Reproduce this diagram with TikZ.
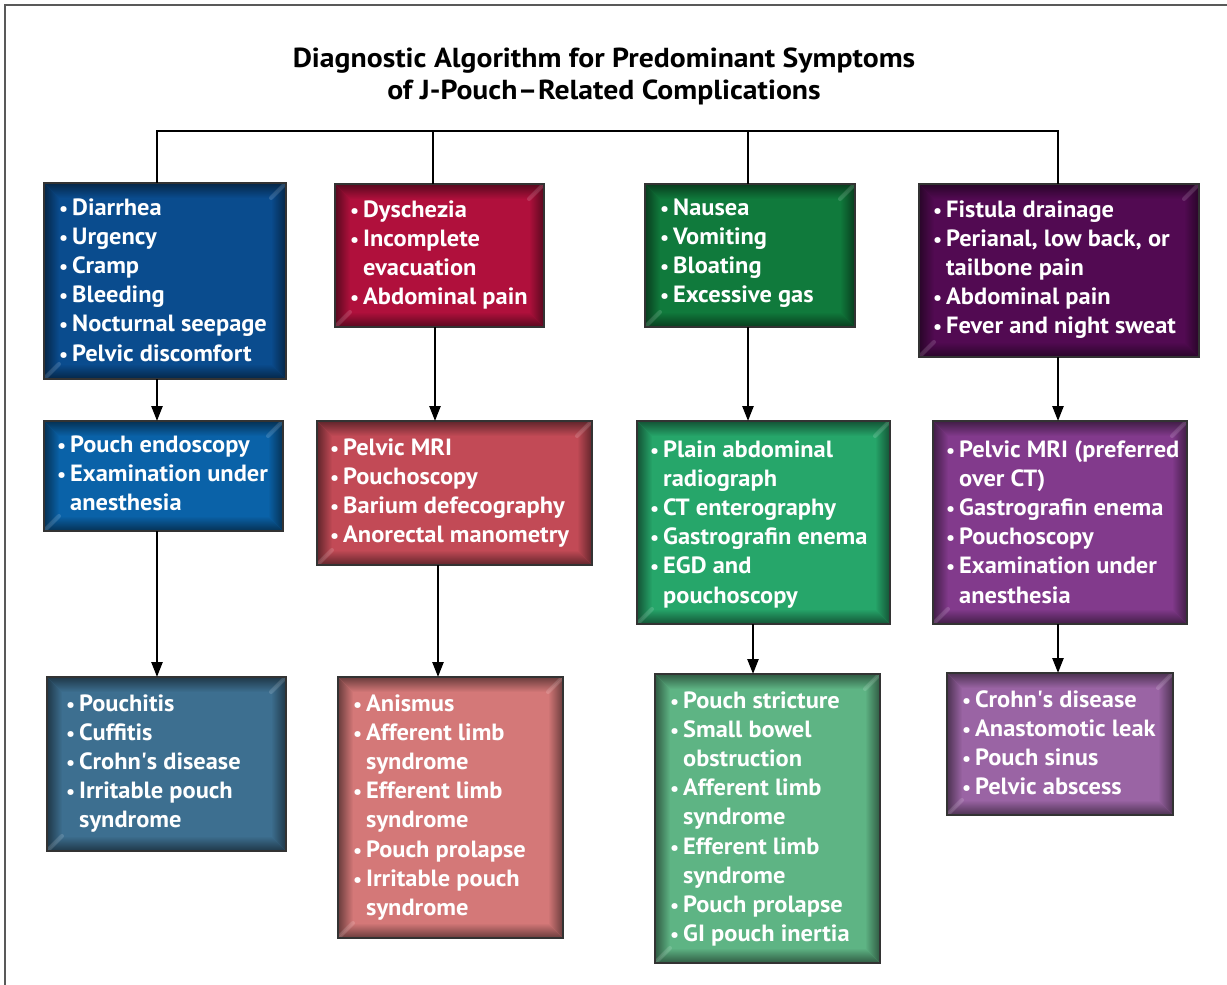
\documentclass[tikz,border=0pt]{standalone}
\usepackage{fontspec}
\usepackage{graphicx}
\setmainfont{PT Sans}
\newfontfamily\bodyfont[FakeStretch=1.04]{PT Sans}
\newfontfamily\titlefont[FakeStretch=1.08]{PT Sans}
\usetikzlibrary{calc,arrows.meta}
\newcommand\B{\makebox[14pt][l]{\hspace*{1pt}\scalebox{0.82}{\textbullet}}}
\newcommand\C{\hspace*{14pt}}
\newcommand\items[1]{\begin{tabular}[t]{@{}l@{}}#1\end{tabular}}
\newcommand\ap{\textquotesingle}
\newlength\bw \setlength\bw{15pt}
\tikzset{
  boxbase/.style={inner sep=0pt, outer sep=0pt, draw=none},
  border/.style={draw=black!80, line width=1.6pt},
  txt/.style={font=\bodyfont\fontsize{23.5}{29.2}\selectfont\bfseries, text=white, inner sep=0pt, anchor=base west},
  ttl/.style={font=\titlefont\fontsize{27.5}{32}\selectfont\bfseries, text=black, inner sep=0pt, anchor=base},
  conn/.style={draw=black, line width=2.4pt},
  arr/.style={draw=black, line width=2.4pt, -{Triangle[width=11pt,length=15pt]}},
  frame/.style={draw=black!65, line width=2pt},
  hl/.style={line width=4pt, white, opacity=0.14, line cap=round},
}
% name, x1, y1, x2, y2, base colour
\newcommand\bbox[6]{%
  \node[boxbase, fill=#6, minimum width={(#4-#2)*1pt}, minimum height={(#5-#3)*1pt}] (#1) at ({(#2+#4)/2},{(#3+#5)/2}) {};
  \coordinate (nw) at (#1.north west); \coordinate (ne) at (#1.north east);
  \coordinate (sw) at (#1.south west); \coordinate (se) at (#1.south east);
  \shade[top color=#6!50!black, bottom color=#6] (nw) -- (ne) -- ($(ne)+(-\bw,-\bw)$) -- ($(nw)+(\bw,-\bw)$) -- cycle;
  \shade[bottom color=#6!50!black, top color=#6] (sw) -- (se) -- ($(se)+(-\bw,\bw)$) -- ($(sw)+(\bw,\bw)$) -- cycle;
  \shade[left color=#6!50!black, right color=#6] (nw) -- (sw) -- ($(sw)+(\bw,\bw)$) -- ($(nw)+(\bw,-\bw)$) -- cycle;
  \shade[right color=#6!50!black, left color=#6] (ne) -- (se) -- ($(se)+(-\bw,\bw)$) -- ($(ne)+(-\bw,-\bw)$) -- cycle;
  \draw[hl] ($(ne)+(-2pt,-2pt)$) -- ($(ne)+(-\bw,-\bw)$);
  \draw[hl] ($(sw)+(2pt,2pt)$) -- ($(sw)+(\bw,\bw)$);
  \draw[border] (nw) rectangle (se);
}
\definecolor{blueA}{HTML}{0A4C8E}
\definecolor{redA}{HTML}{B0103C}
\definecolor{greenA}{HTML}{107A3C}
\definecolor{purpleA}{HTML}{520A52}
\definecolor{blueB}{HTML}{0A62A8}
\definecolor{redB}{HTML}{C24A56}
\definecolor{greenB}{HTML}{26A66A}
\definecolor{purpleB}{HTML}{823A8C}
\definecolor{blueC}{HTML}{3D6F90}
\definecolor{redC}{HTML}{D47878}
\definecolor{greenC}{HTML}{5EB484}
\definecolor{purpleC}{HTML}{9A64A4}
\begin{document}
\begin{tikzpicture}[x=1pt, y=-1pt]
\useasboundingbox (0,0) rectangle (1227,985);
\draw[frame] (5,985) -- (5,5) -- (1227,5);

\node[ttl] (t1) at (604,67) {Diagnostic Algorithm for Predominant Symptoms};
\node[ttl] (t2) at (604,99) {of J-Pouch\kern0.5pt\textendash\kern0.5pt Related Complications};

% row 1
\bbox{b1}{44}{183}{286}{379}{blueA}
\node[txt] (b1t) at (58,215) {\items{\B Diarrhea\\ \B Urgency\\ \B Cramp\\ \B Bleeding\\ \B Nocturnal seepage\\ \B Pelvic discomfort}};
\bbox{r1}{335}{184}{544}{327}{redA}
\node[txt] (r1t) at (349,217) {\items{\B Dyschezia\\ \B Incomplete\\ \C evacuation\\ \B Abdominal pain}};
\bbox{g1}{645}{184}{855}{327}{greenA}
\node[txt] (g1t) at (659,215) {\items{\B Nausea\\ \B Vomiting\\ \B Bloating\\ \B Excessive gas}};
\bbox{p1}{919}{184}{1199}{357}{purpleA}
\node[txt] (p1t) at (932,217) {\items{\B Fistula drainage\\ \B Perianal, low back, or\\ \C tailbone pain\\ \B Abdominal pain\\ \B Fever and night sweat}};

% row 2
\bbox{b2}{44}{421}{283}{531}{blueB}
\node[txt] (b2t) at (56,452) {\items{\B Pouch endoscopy\\ \B Examination under\\ \C anesthesia}};
\bbox{r2}{317}{421}{592}{565}{redB}
\node[txt] (r2t) at (329,455) {\items{\B Pelvic MRI\\ \B Pouchoscopy\\ \B Barium defecography\\ \B Anorectal manometry}};
\bbox{g2}{637}{421}{890}{624}{greenB}
\node[txt] (g2t) at (649,457) {\items{\B Plain abdominal\\ \C radiograph\\ \B CT enterography\\ \B Gastrografin enema\\ \B EGD and\\ \C pouchoscopy}};
\bbox{p2}{933}{421}{1187}{624}{purpleB}
\node[txt] (p2t) at (945,457) {\items{\B Pelvic MRI (preferred\\ \C over CT)\\ \B Gastrografin enema\\ \B Pouchoscopy\\ \B Examination under\\ \C anesthesia}};

% row 3
\bbox{b3}{47}{677}{286}{851}{blueC}
\node[txt] (b3t) at (65,711) {\items{\B Pouchitis\\ \B Cuffitis\\ \B Crohn\ap s disease\\ \B Irritable pouch\\ \C syndrome}};
\bbox{r3}{338}{677}{563}{938}{redC}
\node[txt] (r3t) at (352,711) {\items{\B Anismus\\ \B Afferent limb\\ \C syndrome\\ \B Efferent limb\\ \C syndrome\\ \B Pouch prolapse\\ \B Irritable pouch\\ \C syndrome}};
\bbox{g3}{655}{674}{880}{963}{greenC}
\node[txt] (g3t) at (669,708) {\items{\B Pouch stricture\\ \B Small bowel\\ \C obstruction\\ \B Afferent limb\\ \C syndrome\\ \B Efferent limb\\ \C syndrome\\ \B Pouch prolapse\\ \B GI pouch inertia}};
\bbox{p3}{947}{673}{1173}{815}{purpleC}
\node[txt] (p3t) at (961,707) {\items{\B Crohn\ap s disease\\ \B Anastomotic leak\\ \B Pouch sinus\\ \B Pelvic abscess}};

% top tree
\coordinate (top) at (0,131);
\draw[conn] (b1.north -| 157,0) |- (top -| 1058,0) -- (p1.north -| 1058,0);
\draw[conn] (r1.north -| 433,0) -- (top -| 433,0);
\draw[conn] (g1.north -| 748,0) -- (top -| 748,0);

% arrows
\draw[arr] (b1.south -| 157,0) -- (b2.north -| 157,0);
\draw[arr] (b2.south -| 157,0) -- (b3.north -| 157,0);
\draw[arr] (r1.south -| 435,0) -- (r2.north -| 435,0);
\draw[arr] (r2.south -| 438,0) -- (r3.north -| 438,0);
\draw[arr] (g1.south -| 748,0) -- (g2.north -| 748,0);
\draw[arr] (g2.south -| 753,0) -- (g3.north -| 753,0);
\draw[arr] (p1.south -| 1058,0) -- (p2.north -| 1058,0);
\draw[arr] (p2.south -| 1058,0) -- (p3.north -| 1058,0);
\end{tikzpicture}
\end{document}
